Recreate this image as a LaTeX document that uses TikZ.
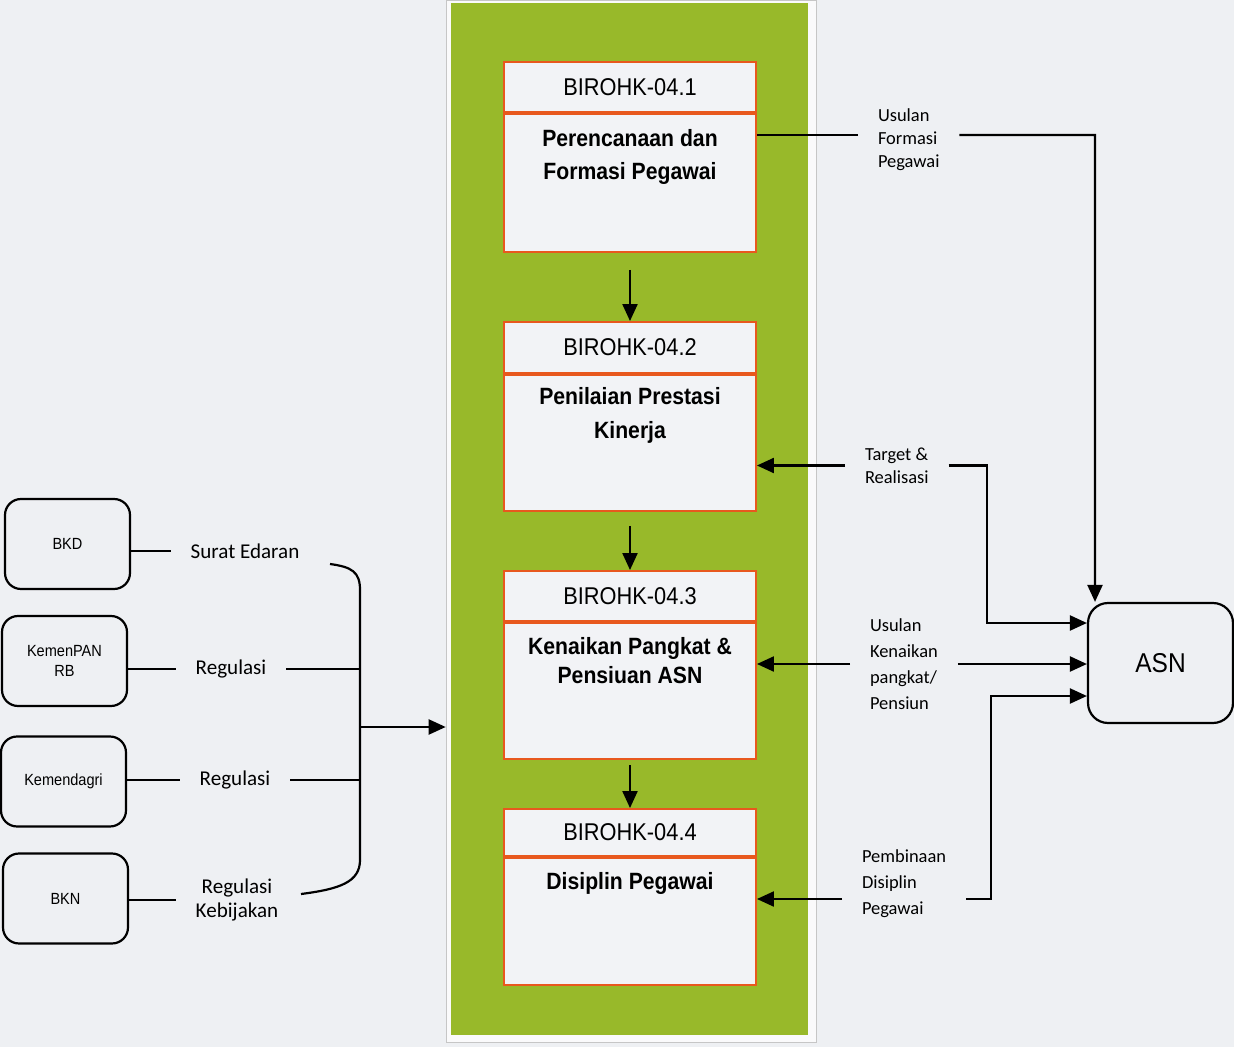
\documentclass[tikz,border=0pt]{standalone}
\usepackage{fontspec}
\setmainfont{Carlito}
\newfontfamily\arialn[FakeStretch=0.9]{Liberation Sans}
\usetikzlibrary{arrows.meta}

\definecolor{paper}{RGB}{238,240,243}
\definecolor{boxfill}{RGB}{242,243,246}
\definecolor{panelgreen}{RGB}{152,185,42}
\definecolor{boxorange}{RGB}{232,88,30}

\begin{document}
\begin{tikzpicture}[x=0.02cm, y=-0.02cm,
    conn/.style={line width=1.25pt},
    arr/.style={line width=1.25pt, -{Triangle[length=0.34cm, width=0.3cm]}},
    ttl/.style={draw=boxorange, line width=1.1pt, fill=boxfill, minimum width=5.04cm, inner sep=0pt,
        font=\arialn\fontsize{13.8}{16}\selectfont},
    body/.style={draw=boxorange, line width=1.1pt, fill=boxfill, minimum width=5.04cm, anchor=north},
    bodytxt/.style={align=center, inner sep=0pt, font=\arialn\bfseries\fontsize{13.4}{19.3}\selectfont},
    srcbox/.style={draw, line width=1.25pt, rounded corners=0.32cm, minimum width=2.5cm, minimum height=1.8cm,
        align=center, font=\arialn\fontsize{9.2}{11.3}\selectfont},
    srclbl/.style={align=center, inner sep=0pt, outer sep=0.4cm, font=\fontsize{12}{14.2}\selectfont},
    outlbl/.style={align=left, anchor=west, inner sep=0pt, outer sep=0.4cm, font=\fontsize{10.5}{13}\selectfont}]

    \useasboundingbox (0,0) rectangle (1234,1047);
    \fill[paper] (0,0) rectangle (1234,1047);

    % green panel
    \node[draw=gray!45, fill=white!70!paper, minimum width=7.4cm, minimum height=20.84cm] (frame) at (631,521) {};
    \node[fill=panelgreen, minimum width=7.14cm, minimum height=20.64cm, inner sep=0pt] (panel) at (629.5,519) {};

    % BIROHK boxes
    \node[ttl, minimum height=1cm] (t1) at (630,87) {BIROHK-04.1};
    \node[body, minimum height=2.76cm] (b1) at (t1.south) {};
    \node[bodytxt] (d1) at (630,157) {Perencanaan dan\\Formasi Pegawai};

    \node[ttl, minimum height=1.02cm] (t2) at (630,347.5) {BIROHK-04.2};
    \node[body, minimum height=2.72cm] (b2) at (t2.south) {};
    \node[bodytxt, font=\arialn\bfseries\fontsize{13.4}{19.8}\selectfont] (d2) at (630,415.5) {Penilaian Prestasi\\Kinerja};

    \node[ttl, minimum height=1cm] (t3) at (630,596) {BIROHK-04.3};
    \node[body, minimum height=2.72cm] (b3) at (t3.south) {};
    \node[bodytxt, font=\arialn\bfseries\fontsize{13.4}{16.4}\selectfont] (d3) at (630,660.5) {Kenaikan Pangkat \&\\Pensiuan ASN};

    \node[ttl, minimum height=0.94cm] (t4) at (630,832.5) {BIROHK-04.4};
    \node[body, minimum height=2.54cm] (b4) at (t4.south) {};
    \node[bodytxt] (d4) at (630,883) {Disiplin Pegawai};

    \draw[arr, shorten <=0.34cm] (b1.south) -- (t2.north);
    \draw[arr, shorten <=0.28cm] (b2.south) -- (t3.north);
    \draw[arr, shorten <=0.1cm] (b3.south) -- (t4.north);

    % sources on the left
    \node[srcbox] (bkd) at (67.5,544) {BKD};
    \node[srcbox] (kpan) at (64.5,661) {KemenPAN\\RB};
    \node[srcbox] (kdagri) at (63.5,781.5) {Kemendagri};
    \node[srcbox] (bkn) at (65.5,898.5) {BKN};

    \node[srclbl] (se) at (245,551) {Surat Edaran};
    \node[srclbl] (rg1) at (231,669) {Regulasi};
    \node[srclbl] (rg2) at (235,780) {Regulasi};
    \node[srclbl] (rk) at (237,900) {Regulasi\\Kebijakan};

    \coordinate (brtop) at (330,564);
    \coordinate (brbot) at (301,894);
    \coordinate (brace) at (360,727);

    \draw[conn] (bkd.east |- se) -- (se.west);
    \draw[conn] (kpan.east |- rg1) -- (rg1.west);
    \draw[conn] (rg1.east) -- (rg1 -| brace);
    \draw[conn] (kdagri.east |- rg2) -- (rg2.west);
    \draw[conn] (rg2.east) -- (rg2 -| brace);
    \draw[conn] (bkn.east |- rk) -- (rk.west);
    \draw[conn] (brtop) .. controls (352,567) and (360,572) .. (360,590)
        -- (360,860) .. controls (360,882) and (340,889) .. (brbot);
    \draw[arr] (brace) -- (brace -| frame.west);

    % ASN on the right
    \node[draw, line width=1.25pt, rounded corners=0.4cm, minimum width=2.9cm, minimum height=2.4cm,
        font=\arialn\fontsize{15.5}{18}\selectfont] (asn) at (1160.5,663) {ASN};

    \node[outlbl] (uf) at (858,140) {Usulan\\Formasi\\Pegawai};
    \node[outlbl] (tr) at (845,465.5) {Target \&\\Realisasi};
    \node[outlbl, font=\fontsize{10.5}{14.7}\selectfont] (uk) at (850,664) {Usulan\\Kenaikan\\pangkat/\\Pensiun};
    \node[outlbl, font=\fontsize{10.5}{14.7}\selectfont] (pd) at (842,884) {Pembinaan\\Disiplin\\Pegawai};

    \coordinate (ufl) at ([yshift=0.1cm]uf.west);
    \coordinate (ufr) at ([yshift=0.1cm]uf.east);
    \coordinate (pdl) at ([yshift=-0.3cm]pd.west);
    \coordinate (pdr) at ([yshift=-0.3cm]pd.east);
    \coordinate (k1) at (1095,135);
    \coordinate (k2) at (987,623);
    \coordinate (k4) at (991,696);

    \draw[conn] (ufl) -- (ufl -| b1.east);
    \draw[arr] (ufr) -- (k1) -- (k1 |- asn.north);
    \draw[arr] (tr.west) -- (tr.west -| b2.east);
    \draw[arr] (tr.east) -| (k2) -- (k2 -| asn.west);
    \draw[arr] (uk.west) -- (uk.west -| b3.east);
    \draw[arr] (uk.east) -- (uk.east -| asn.west);
    \draw[arr] (pdl) -- (pdl -| b4.east);
    \draw[arr] (pdr) -| (k4) -- (k4 -| asn.west);
\end{tikzpicture}
\end{document}
